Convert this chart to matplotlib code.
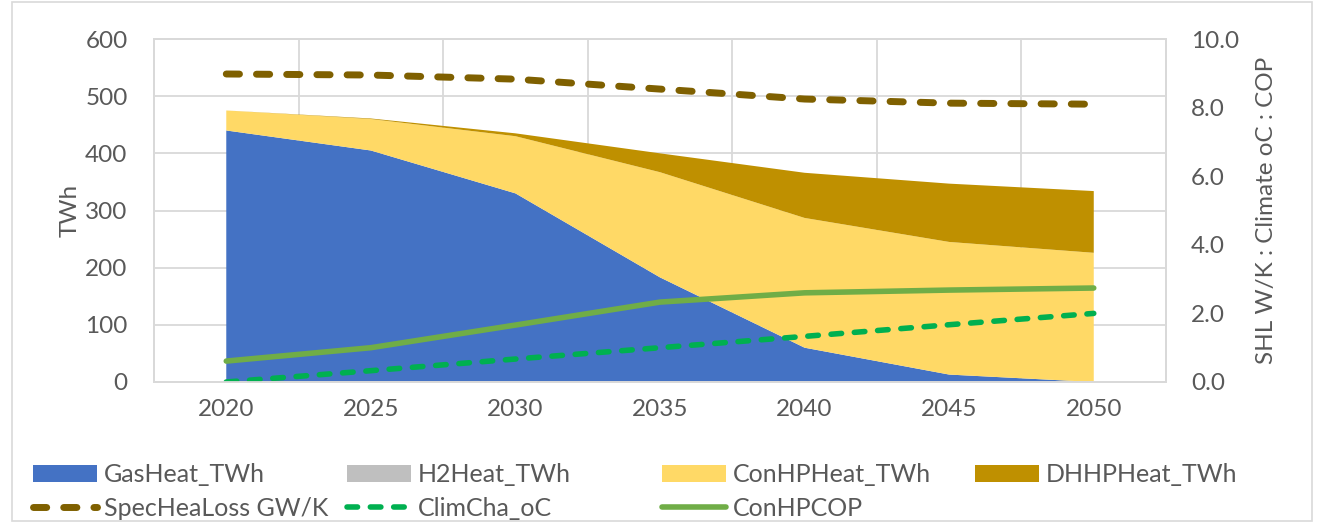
import matplotlib.pyplot as plt
from matplotlib.patches import Rectangle
from matplotlib.lines import Line2D
from matplotlib.ticker import FormatStrFormatter

plt.rcParams['font.family'] = ['Lato', 'DejaVu Sans']

years = ['2020', '2025', '2030', '2035', '2040', '2045', '2050']

# heat supply, TWh (stacked)
gas_heat = [440, 405, 330, 183, 60, 13, 0]
h2_heat = [0, 0, 0, 0, 0, 0, 0]
conhp_heat = [35, 55, 100, 184, 227, 232, 226]
dhhp_heat = [0, 1, 5, 33, 79, 102, 108]

# secondary axis series
spec_hea_loss = [8.98, 8.95, 8.83, 8.54, 8.25, 8.13, 8.10]
clim_cha = [0.0, 0.33, 0.67, 1.0, 1.33, 1.67, 2.0]
conhp_cop = [0.61, 1.0, 1.66, 2.33, 2.6, 2.68, 2.74]

c_gas = '#4472C4'
c_h2 = '#BFBFBF'
c_conhp = '#FFD966'
c_dhhp = '#BF9000'
c_shl = '#7F6000'
c_clim = '#00B050'
c_cop = '#70AD47'
grid_c = '#D9D9D9'
text_c = '#595959'

fig = plt.figure(figsize=(13.24, 5.23), dpi=100)
fig.patches.append(Rectangle((0.009, 0.003), 0.982, 0.994, transform=fig.transFigure,
                             fill=False, edgecolor=grid_c, linewidth=1.2))

ax = fig.add_axes([0.1163, 0.2696, 0.7644, 0.6558])
x = list(range(len(years)))

ax.stackplot(x, gas_heat, h2_heat, conhp_heat, dhhp_heat,
             colors=[c_gas, c_h2, c_conhp, c_dhhp], linewidth=0)
ax.set_xlim(-0.5, len(years) - 0.5)
ax.set_ylim(0, 600)
ax.set_yticks(range(0, 601, 100))
ax.set_xticks(x)
ax.set_xticklabels(years)
ax.set_xticks([i + 0.5 for i in range(len(years) - 1)], minor=True)
ax.set_axisbelow(True)
ax.grid(axis='y', color=grid_c, linewidth=1.3)
ax.grid(axis='x', which='minor', color=grid_c, linewidth=1.3)
ax.tick_params(which='both', length=0, labelsize=17.5, labelcolor=text_c)
ax.tick_params(axis='x', pad=12)
ax.tick_params(axis='y', pad=19)
ax.set_ylabel('TWh', fontsize=17.5, color=text_c, labelpad=3)
for s in ax.spines.values():
    s.set_color(grid_c)
    s.set_linewidth(1.3)

ax2 = ax.twinx()
ax2.plot(x, spec_hea_loss, color=c_shl, lw=5, dashes=(1.9, 2.45), dash_capstyle='round')
ax2.plot(x, clim_cha, color=c_clim, lw=4, dashes=(1.9, 2.3), dash_capstyle='round')
ax2.plot(x, conhp_cop, color=c_cop, lw=4, solid_capstyle='round')
ax2.set_ylim(0, 10)
ax2.set_yticks(range(0, 11, 2))
ax2.yaxis.set_major_formatter(FormatStrFormatter('%.1f'))
ax2.tick_params(length=0, labelsize=17.5, labelcolor=text_c, pad=18)
ax2.set_ylabel('SHL W/K : Climate oC : COP', fontsize=17.5, color=text_c, labelpad=12)
for s in ax2.spines.values():
    s.set_color(grid_c)
    s.set_linewidth(1.3)

# legend laid out as four columns, two rows
def patch(c):
    return Rectangle((0, 0), 1, 1, facecolor=c, edgecolor='none')

columns = [
    (0.0249, [patch(c_gas), Line2D([], [], color=c_shl, lw=5, dashes=(1.9, 2.45), dash_capstyle='round')],
     ['GasHeat_TWh', 'SpecHeaLoss GW/K']),
    (0.2621, [patch(c_h2), Line2D([], [], color=c_clim, lw=4, dashes=(1.9, 2.3), dash_capstyle='round')],
     ['H2Heat_TWh', 'ClimCha_oC']),
    (0.5, [patch(c_conhp), Line2D([], [], color=c_cop, lw=4, solid_capstyle='round')],
     ['ConHPHeat_TWh', 'ConHPCOP']),
    (0.7364, [patch(c_dhhp)], ['DHHPHeat_TWh']),
]
for xpos, handles, labels in columns:
    leg = fig.legend(handles, labels, loc='upper left', bbox_to_anchor=(xpos, 0.114),
                     frameon=False, fontsize=18, handlelength=2.56, handleheight=0.65,
                     handletextpad=0.28, labelspacing=0.42, borderpad=0, borderaxespad=0)
    for t in leg.get_texts():
        t.set_color(text_c)

fig.savefig('out.png', dpi=100)
